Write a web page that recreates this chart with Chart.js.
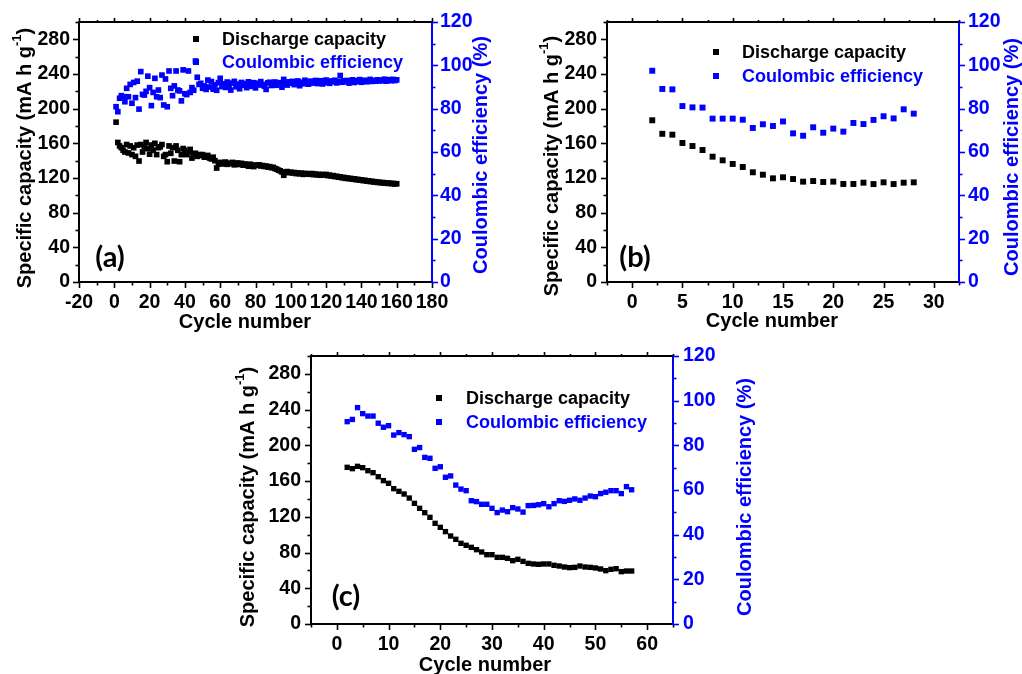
<!DOCTYPE html>
<html><head><meta charset="utf-8">
<script src="https://cdn.jsdelivr.net/npm/chart.js@4.4.0/dist/chart.umd.min.js"></script>
<style>
html,body{margin:0;padding:0;background:#fff;width:1022px;height:674px;overflow:hidden;}
canvas{position:absolute;left:0;top:0;}
</style></head><body>
<canvas id="ca" width="1022" height="674"></canvas>
<canvas id="cb" width="1022" height="674"></canvas>
<canvas id="cc" width="1022" height="674"></canvas>
<script>
// ---------- data ----------
const seriesNames = ['Discharge capacity', 'Coulombic efficiency'];
const xTitle = 'Cycle number';
const yTitleMain = 'Specific capacity (mA h g';
const yTitleSup = '-1';
const yTitleEnd = ')';
const rTitle = 'Coulombic efficiency (%)';
const panelLabels = ['(a)', '(b)', '(c)'];

const capTicks = [0, 40, 80, 120, 160, 200, 240, 280];
const ceTicks = [0, 20, 40, 60, 80, 100, 120];
const xTicksA = [-20, 0, 20, 40, 60, 80, 100, 120, 140, 160, 180];
const xTicksB = [0, 5, 10, 15, 20, 25, 30];
const xTicksC = [0, 10, 20, 30, 40, 50, 60];

const cyclesA = [1,2,3,4,5,6,7,8,9,10,11,12,13,14,15,16,17,18,19,20,21,22,23,24,25,26,27,28,29,30,
31,32,33,34,35,36,37,38,39,40,41,42,43,44,45,46,47,48,49,50,51,52,53,54,55,56,57,58,59,60,
61,62,63,64,65,66,67,68,69,70,71,72,73,74,75,76,77,78,79,80,81,82,83,84,85,86,87,88,89,90,
91,92,93,94,95,96,97,98,99,100,101,102,103,104,105,106,107,108,109,110,111,112,113,114,115,116,117,118,119,120,
121,122,123,124,125,126,127,128,129,130,131,132,133,134,135,136,137,138,139,140,141,142,143,144,145,146,147,148,149,150,
151,152,153,154,155,156,157,158,159,160];
const capA = [
184.4,161,157,155,152,150,158.6,148.9,157,147,
155,145,158,139.6,158.6,150,156,161,154,147.5,
158,152,160,147,155,156,158.6,145,147,138.8,
157,148.5,155,139.6,157,152,138.8,147,154,152,
147,150,153,143,148,148.5,145,147,146,147,
144,145,146,143,142,144,140,131.5,136,138,
137.5,136.2,138.4,135.8,137.1,136.5,138.0,135.2,136.8,137.3,
135.6,136.9,134.8,136.2,135.4,133.6,135.9,134.7,133.2,134.9,
134.6,135.2,133.9,134.4,133.3,133.8,132.7,133.1,131.9,132.3,
131.0,130.2,129.1,128.3,127.0,123.2,126.8,127.4,126.1,126.7,
125.8,126.3,125.1,125.9,124.8,125.6,124.2,125.3,124.7,125.0,
124.3,125.1,123.9,124.6,123.5,124.2,123.2,124.0,123.6,124.1,
122.8,123.3,122.2,122.7,121.6,122.0,120.9,121.4,120.3,120.7,
119.6,120.0,119.2,119.5,118.6,119.0,118.1,118.4,117.6,117.9,
117.0,117.3,116.5,116.8,115.9,116.2,115.4,115.7,114.9,115.1,
114.5,114.8,114.1,114.4,113.8,114.0,113.5,113.7,113.2,113.4];
const ceA = [
80.9,78.6,84.8,86.0,85.5,83.2,89.4,85.5,91.2,82.5,
92.1,85.1,92.7,79.8,97.1,86.6,86.3,88.0,95.0,89.7,
81.4,87.5,94.0,85.5,88.6,85.1,95.5,81.7,93.7,80.9,
97.4,89.4,86.0,90.5,97.4,88.6,88.2,83.6,97.9,86.9,
86.5,97.4,87.5,89.7,88.5,102.0,94.5,91.2,91.7,89.4,
90.5,88.9,93.2,90.0,92.5,89.0,91.0,88.5,92.0,94.0,
90.2,91.5,89.8,92.3,90.6,88.6,91.8,92.6,90.1,91.3,
89.2,92.1,90.8,91.6,89.7,92.4,91.0,90.3,92.0,89.6,
91.7,90.9,92.5,91.2,90.4,88.9,91.9,92.2,90.7,91.5,
92.3,90.8,91.6,92.0,89.9,93.5,91.4,90.9,92.4,91.8,
92.6,91.1,91.9,92.8,90.6,92.2,91.5,93.1,92.0,91.3,
92.7,91.8,92.3,93.0,91.6,92.5,92.9,91.4,92.2,93.2,
92.0,91.7,92.8,92.4,93.1,91.9,92.6,95.3,92.2,92.9,
92.4,93.0,91.8,92.7,93.3,92.1,92.9,92.5,93.4,92.2,
92.8,93.1,92.4,92.9,93.5,92.6,93.0,92.7,93.3,92.8,
93.2,92.9,93.6,92.7,93.1,93.4,92.9,93.5,93.0,93.3];

const cyclesB = [2,3,4,5,6,7,8,9,10,11,12,13,14,15,16,17,18,19,20,21,22,23,24,25,26,27,28];
const capB = [186.6,171,170,160.4,156.9,152.3,144.6,140.4,136.2,132.7,126.6,123.8,119.6,120.8,118.8,115.8,116.5,115.4,115.8,113.1,113.1,114.6,113,115,113,114.6,115];
const ceB = [97.5,89.1,88.9,81.2,80.6,80.5,75.4,75.4,75.4,74.9,71.1,72.8,72,74.1,68.6,67.5,71.4,68.9,70.8,69.4,73.4,72.9,74.8,76.5,75.5,79.7,77.7];

const cyclesC = [2,3,4,5,6,7,8,9,10,11,12,13,14,15,16,17,18,19,20,21,22,23,24,25,26,27,28,29,30,
31,32,33,34,35,36,37,38,39,40,41,42,43,44,45,46,47,48,49,50,51,52,53,54,55,56,57];
const capC = [175.4,173.9,176.5,175,171.6,169.4,164.9,160.5,157.5,151.5,148.5,145.5,141,135.1,129.5,124.6,119.4,112.7,108.2,103.4,
98.5,94.8,90.3,88.1,85.8,83.2,80.6,77.6,77.6,74.6,
74.6,73.5,70.9,72.4,70.1,67.9,67.2,66.8,67.2,67.2,65.7,64.9,63.8,63.1,63.4,64.9,63.8,63.4,62.7,61.6,59.7,61.2,61.9,58.6,59.3,59.3];
const ceC = [90.6,91.6,96.9,94.2,93.1,93.1,89.9,88.1,88.8,84.6,85.7,84.8,83.9,78.2,79,74.6,74.2,69.7,70.4,65.7,
66.3,62.2,60.4,59.7,55.2,54.8,53.6,53.6,51.8,49.9,51,50.3,52.1,51.5,50.1,53,53.1,53.4,53.9,52.5,
53.9,55.2,54.9,55.4,56,55.4,56.4,57.3,57,58.4,59,59.7,59.7,58.4,61.5,60.1];

// ---------- styling ----------
const FONT = '"Liberation Sans", Arial, Helvetica, sans-serif';
const BLUE = '#0000ff';
const RW = 50; // right axis box width

const deco = {
  id: 'deco',
  afterDraw(chart, args, o) {
    const ctx = chart.ctx, a = chart.chartArea;
    const xs = chart.scales.x, yl = chart.scales.y, yr = chart.scales.y2;
    ctx.save();
    const line = (x1, y1, x2, y2, c, w) => {
      ctx.strokeStyle = c; ctx.lineWidth = w;
      ctx.beginPath(); ctx.moveTo(x1, y1); ctx.lineTo(x2, y2); ctx.stroke();
    };
    // top frame
    line(a.left - 1, a.top, a.right, a.top, '#000', 2);
    const isMajor = (v, m) => Math.abs(v / m - Math.round(v / m)) < 1e-6;
    // x ticks
    for (let v = o.xMin; v <= o.xMax + 1e-9; v += o.xMinor) {
      const px = Math.round(xs.getPixelForValue(v)) + 0.5;
      const mj = isMajor(v, o.xMajor);
      line(px, a.bottom, px, a.bottom + (mj ? 6 : 3.5), '#000', 1.6);
      line(px, a.top, px, a.top - (mj ? 4 : 2), '#000', 1.6);
    }
    // left ticks
    for (let v = 0; v <= 300 + 1e-9; v += 20) {
      const py = Math.round(yl.getPixelForValue(v)) + 0.5;
      line(a.left, py, a.left - (isMajor(v, 40) ? 6 : 3.5), py, '#000', 1.6);
    }
    // right ticks
    for (let v = 0; v <= 120 + 1e-9; v += 10) {
      const py = Math.round(yr.getPixelForValue(v)) + 0.5;
      line(a.right, py, a.right + (isMajor(v, 20) ? 6 : 3.5), py, BLUE, 1.6);
    }
    // left title with superscript
    ctx.save();
    ctx.translate(o.yT[0], o.yT[1]);
    ctx.rotate(-Math.PI / 2);
    ctx.fillStyle = '#000';
    ctx.textBaseline = 'middle';
    ctx.textAlign = 'left';
    const fMain = 'bold 20px ' + FONT, fSup = 'bold 13px ' + FONT;
    ctx.font = fMain; const w1 = ctx.measureText(yTitleMain).width, w3 = ctx.measureText(yTitleEnd).width;
    ctx.font = fSup; const w2 = ctx.measureText(yTitleSup).width;
    let sx = -(w1 + w2 + w3) / 2;
    ctx.font = fMain; ctx.fillText(yTitleMain, sx, 0); sx += w1;
    ctx.font = fSup; ctx.fillText(yTitleSup, sx, -8); sx += w2;
    ctx.font = fMain; ctx.fillText(yTitleEnd, sx, 0);
    ctx.restore();
    // right title
    ctx.save();
    ctx.translate(o.rT[0], o.rT[1]);
    ctx.rotate(-Math.PI / 2);
    ctx.fillStyle = BLUE; ctx.font = 'bold 20px ' + FONT;
    ctx.textAlign = 'center'; ctx.textBaseline = 'middle';
    ctx.fillText(rTitle, 0, 0);
    ctx.restore();
    // x title
    ctx.fillStyle = '#000'; ctx.font = 'bold 20px ' + FONT;
    ctx.textAlign = 'center'; ctx.textBaseline = 'middle';
    ctx.fillText(xTitle, o.xT[0], o.xT[1]);
    // panel label
    ctx.font = 'bold 29px Lato, "Open Sans", sans-serif';
    ctx.fillText(o.label, o.pL[0], o.pL[1]);
    // legend
    ctx.font = 'bold 18px ' + FONT; ctx.textAlign = 'left';
    chart.data.datasets.forEach((ds, i) => {
      const [mx, my] = o.leg[i];
      ctx.fillStyle = ds.backgroundColor;
      ctx.fillRect(mx - 3, my - 3, 6, 6);
      ctx.fillText(ds.label, o.legTx, my + 1);
    });
    ctx.restore();
  }
};

function axisFont() { return {family: FONT, size: 19.5, weight: 'bold'}; }

function makeChart(id, c) {
  const ds = (xs, ys, col, axis) => ({
    label: '', data: xs.map((x, i) => ({x: x, y: ys[i]})), yAxisID: axis,
    backgroundColor: col, borderColor: col, borderWidth: 0,
    pointStyle: 'rect', pointRadius: c.r, showLine: false, clip: false
  });
  const d1 = ds(c.x, c.cap, '#000', 'y'); d1.label = seriesNames[0];
  const d2 = ds(c.x, c.ce, BLUE, 'y2'); d2.label = seriesNames[1];
  return new Chart(document.getElementById(id), {
    type: 'scatter',
    data: {datasets: [d1, d2]},
    options: {
      responsive: false, animation: false, events: [],
      layout: {padding: c.pad},
      plugins: {legend: {display: false}, tooltip: {enabled: false}, deco: c.deco},
      scales: {
        x: {
          type: 'linear', position: 'bottom', min: c.xMin, max: c.xMax,
          afterFit(s) { s.height = 40; },
          afterBuildTicks(s) { s.ticks = c.xTicks.map(v => ({value: v})); },
          grid: {display: true, drawOnChartArea: false, drawTicks: false},
          border: {display: true, color: '#000', width: 2},
          ticks: {autoSkip: false, maxRotation: 0, minRotation: 0, color: '#000', font: axisFont(), padding: 9}
        },
        y: {
          type: 'linear', position: 'left', min: 0, max: 300,
          afterFit(s) { s.width = c.yw; },
          afterBuildTicks(s) { s.ticks = capTicks.map(v => ({value: v})); },
          grid: {display: true, drawOnChartArea: false, drawTicks: false},
          border: {display: true, color: '#000', width: 2},
          ticks: {autoSkip: false, color: '#000', font: axisFont(), padding: c.lp}
        },
        y2: {
          type: 'linear', position: 'right', min: 0, max: 120,
          afterFit(s) { s.width = RW; },
          afterBuildTicks(s) { s.ticks = ceTicks.map(v => ({value: v})); },
          grid: {display: true, drawOnChartArea: false, drawTicks: false},
          border: {display: true, color: BLUE, width: 2},
          ticks: {autoSkip: false, color: BLUE, font: axisFont(), padding: c.rp}
        }
      }
    },
    plugins: [deco]
  });
}

// panel (a): plot area 79..432 x 22..282
makeChart('ca', {
  x: cyclesA, cap: capA, ce: ceA, r: 4, xMin: -20, xMax: 180, xTicks: xTicksA,
  pad: {left: 0, top: 22, right: 1022 - 432 - RW, bottom: 674 - 282 - 40}, yw: 79, lp: 9, rp: 8,
  deco: {xMin: -20, xMax: 180, xMinor: 10, xMajor: 20, yT: [25, 158], rT: [481, 155], xT: [245, 322],
         pL: [110, 258], label: panelLabels[0], leg: [[196, 39], [196, 62]], legTx: 222}
});
// panel (b): plot area 607..959 x 22..282
makeChart('cb', {
  x: cyclesB, cap: capB, ce: ceB, r: 4.2, xMin: -2.5, xMax: 32.5, xTicks: xTicksB,
  pad: {left: 607 - 60, top: 22, right: 1022 - 959 - RW, bottom: 674 - 282 - 40}, yw: 60, lp: 10, rp: 9,
  deco: {xMin: -2.5, xMax: 32.5, xMinor: 2.5, xMajor: 5, yT: [552, 166], rT: [1012, 157], xT: [772, 321],
         pL: [635, 258], label: panelLabels[1], leg: [[716, 52], [716, 76]], legTx: 742}
});
// panel (c): plot area 311..673 x 356..624
makeChart('cc', {
  x: cyclesC, cap: capC, ce: ceC, r: 3.8, xMin: -5, xMax: 65, xTicks: xTicksC,
  pad: {left: 311 - 60, top: 356, right: 1022 - 673 - RW, bottom: 674 - 624 - 40}, yw: 60, lp: 10, rp: 10,
  deco: {xMin: -5, xMax: 65, xMinor: 5, xMajor: 10, yT: [248, 497], rT: [745, 497], xT: [485, 665],
         pL: [346, 597], label: panelLabels[2], leg: [[439, 398], [439, 422]], legTx: 466}
});
</script>
</body></html>
